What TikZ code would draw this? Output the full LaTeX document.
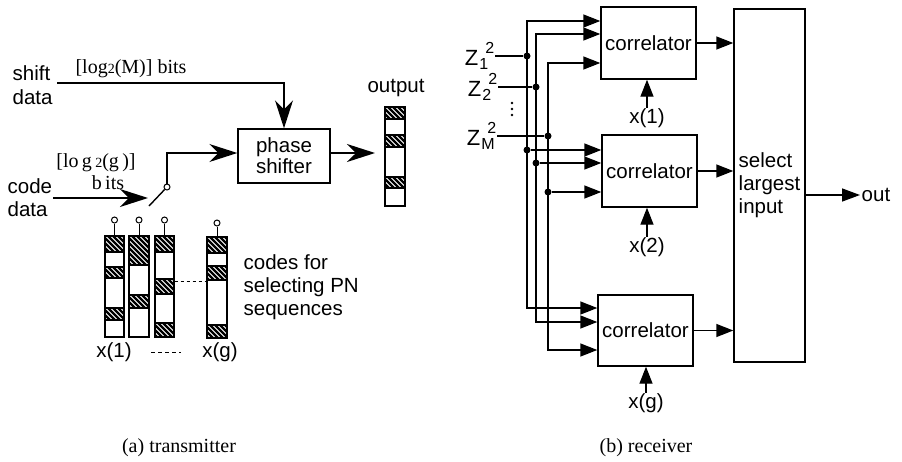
\documentclass[tikz,border=0pt]{standalone}
\usepackage{fontspec}
\setmainfont{Liberation Serif}
\setsansfont{Liberation Sans}
\usetikzlibrary{arrows.meta,calc}
\newcommand\hseg[4]{%
  \begin{scope}
    \clip (#1,#2) rectangle (#3,#4);
    \foreach \k in {-32,-27,...,22}{\draw[line width=2.4pt] ({#1+\k},#2) -- ++(32,32);}
  \end{scope}
  \draw[line width=1.4pt] (#1,#2) rectangle (#3,#4);}
\newcommand\smallfs{\fontsize{14}{14}\selectfont}
\newcommand\zsupfs{\fontsize{16}{16}\selectfont}
\newcommand\zlab[1]{{\fontsize{22}{22}\selectfont Z}\kern1pt\rlap{\raisebox{-4pt}{\zsupfs #1}}\kern6pt\raisebox{12pt}{\zsupfs 2}}
\begin{document}
\begin{tikzpicture}[x=1pt,y=-1pt,line width=1.4pt,
  every node/.style={font=\sffamily\fontsize{20.5}{23}\selectfont,inner sep=0pt},
  serif/.style={font=\rmfamily\fontsize{20}{23}\selectfont},
  box/.style={draw,line width=1.4pt,fill=white},
  colbox/.style={draw,line width=1.4pt,fill=white,minimum height=101pt},
  pinc/.style={circle,draw,fill=white,line width=1pt,minimum size=6pt},
  dot/.style={circle,fill=black,minimum size=7pt},
  tarr/.style={-{Stealth[length=28pt,width=18pt,inset=9pt]}},
  rarr/.style={-{Triangle[length=17pt,width=13pt]}},
  rarrb/.style={{Triangle[length=17pt,width=13pt]}-{Triangle[length=17pt,width=13pt]}}]
\useasboundingbox (0,0) rectangle (902,461);

% ---------------- transmitter ----------------
\node[box,minimum width=92pt,minimum height=54pt,align=center,
      font=\sffamily\fontsize{20.5}{21}\selectfont] (ps) at (284,156) {phase\\shifter};

\node[anchor=west,align=left,font=\sffamily\fontsize{20.5}{24}\selectfont] (shiftlbl) at (12,85) {shift\\data};
\coordinate (shs) at (57,83);
\draw[tarr] (shs) -| (ps.north);
\node[serif] (mlbl) at (131,69) {[log{\smallfs 2}(M)] bits};

\node[anchor=west,align=left,font=\sffamily\fontsize{20.5}{23}\selectfont] (codelbl) at (7,198) {code\\data};
\coordinate (cds) at (53,198);
\coordinate (cde) at (148,198);
\draw[tarr] (cds) -- (cde);
\node[serif] (glbl) at (96,163) {[lo\,g\,{\smallfs 2}(g\,)]};
\node[serif] (bits) at (108,183) {b\,its};

\node[pinc] (sw) at (167,187) {};
\coordinate (lev) at (149,206);
\draw (lev) -- (sw);
\coordinate (psin) at (238,153);
\draw[tarr] (sw.north) |- (ps.west |- psin);

% output column
\node[colbox,minimum width=20pt,minimum height=99pt] (outcol) at (395,156.5) {};
\hseg{385}{107}{405}{119}
\hseg{385}{135}{405}{147}
\hseg{385}{177}{405}{188}
\node (outlbl) at (396,88) {output};
\coordinate (otip) at (375,153);
\draw[tarr] (ps.east |- otip) -- (otip);

% code columns
\node[colbox,minimum width=19pt] (col1) at (114.5,286.5) {};
\node[colbox,minimum width=20pt] (col2) at (139,286.5) {};
\node[colbox,minimum width=19pt] (col3) at (164.5,286.5) {};
\node[colbox,minimum width=20pt] (col4) at (217,287.5) {};
\hseg{105}{236}{124}{252}
\hseg{105}{267}{124}{278}
\hseg{105}{308}{124}{320}
\hseg{129}{236}{149}{265}
\hseg{129}{295}{149}{308}
\hseg{155}{236}{174}{252}
\hseg{155}{279}{174}{294}
\hseg{155}{323}{174}{337}
\hseg{207}{237}{227}{253}
\hseg{207}{266}{227}{280}
\hseg{207}{325}{227}{338}
\node[pinc] (p1) at (114.5,220) {};
\node[pinc] (p2) at (139,220) {};
\node[pinc] (p3) at (164.5,220) {};
\node[pinc] (p4) at (217,223) {};
\draw[line width=1pt] (p1.south) -- (col1.north);
\draw[line width=1pt] (p2.south) -- (col2.north);
\draw[line width=1pt] (p3.south) -- (col3.north);
\draw[line width=1pt] (p4.south) -- (col4.north);
\coordinate (dl) at (0,281);
\draw[line width=1pt,dash pattern=on 3pt off 3pt] (col3.east |- dl) -- (col4.west |- dl);

\node (xc1) at (114,352) {x(1)};
\node (xcg) at (220,352) {x(g)};
\draw[line width=1pt,dash pattern=on 4pt off 3pt] ($(xc1.east)+(19,0)$) -- ($(xcg.west)+(-21,0)$);

\node[anchor=west,align=left] (codestxt) at (243,287) {codes for\\selecting PN\\sequences};

\node[serif] (capa) at (179,448) {(a) transmitter};

% ---------------- receiver ----------------
\node[box,minimum width=95pt,minimum height=72pt] (c1) at (648.5,43) {correlator};
\node[box,minimum width=95pt,minimum height=72pt] (c2) at (649.5,171) {correlator};
\node[box,minimum width=95pt,minimum height=71pt] (c3) at (645.5,330.5) {correlator};
\node[box,minimum width=71pt,minimum height=353pt,align=left,
      font=\sffamily\fontsize{20.5}{23}\selectfont] (sel) at (769.5,185.5) {select\\largest\\input};

\draw[rarr] (c1.east) -- (c1.east -| sel.west);
\draw[rarr] (c2.east) -- (c2.east -| sel.west);
\draw[rarr] (c3.east) -- (c3.east -| sel.west);
\coordinate (oute) at (860,195);
\draw[-{Triangle[length=18pt,width=13pt]}] (sel.east |- oute) -- (oute);
\node[anchor=west] (outtxt) at (861,195) {out};

\node (x1) at (647,118) {x(1)};
\node (x2) at (647,247) {x(2)};
\node (xg) at (646,403) {x(g)};
\draw[rarr] (x1.north) -- (x1.north |- c1.south);
\draw[rarr] (x2.north) -- (x2.north |- c2.south);
\draw[rarr] (xg.north) -- (xg.north |- c3.south);

% Z labels
\node[anchor=base east] (z1) at (495,65) {\zlab{1}};
\node[anchor=base east] (z2) at (498,96) {\zlab{2}};
\node[anchor=base east] (zm) at (497,145) {\zlab{M}};
\fill (512,103) circle (1.3pt) (512,109) circle (1.3pt) (512,115) circle (1.3pt);

% buses
\coordinate (a1) at (527,21);  \coordinate (a3) at (527,308);
\coordinate (b1) at (536,34);  \coordinate (b3) at (536,322);
\coordinate (m1) at (548,63);  \coordinate (m3) at (548,350);
\draw[rarrb] (c3.west |- a3) -- (a3) -- (a1) -- (c1.west |- a1);
\draw[rarrb] (c3.west |- b3) -- (b3) -- (b1) -- (c1.west |- b1);
\draw[rarrb] (c3.west |- m3) -- (m3) -- (m1) -- (c1.west |- m1);

\node[dot] (ja) at (527,56) {};
\node[dot] (jb) at (536,87) {};
\node[dot] (jm) at (548,136) {};
\node[dot] (ka) at (527,150) {};
\node[dot] (kb) at (536,163) {};
\node[dot] (km) at (548,192) {};
\draw (z1.east |- ja) -- (ja);
\draw (z2.east |- jb) -- (jb);
\draw (zm.east |- jm) -- (jm);
\draw[rarr] (ka) -- (c2.west |- ka);
\draw[rarr] (kb) -- (c2.west |- kb);
\draw[rarr] (km) -- (c2.west |- km);

\node[serif] (capb) at (646,448) {(b) receiver};
\end{tikzpicture}
\end{document}
